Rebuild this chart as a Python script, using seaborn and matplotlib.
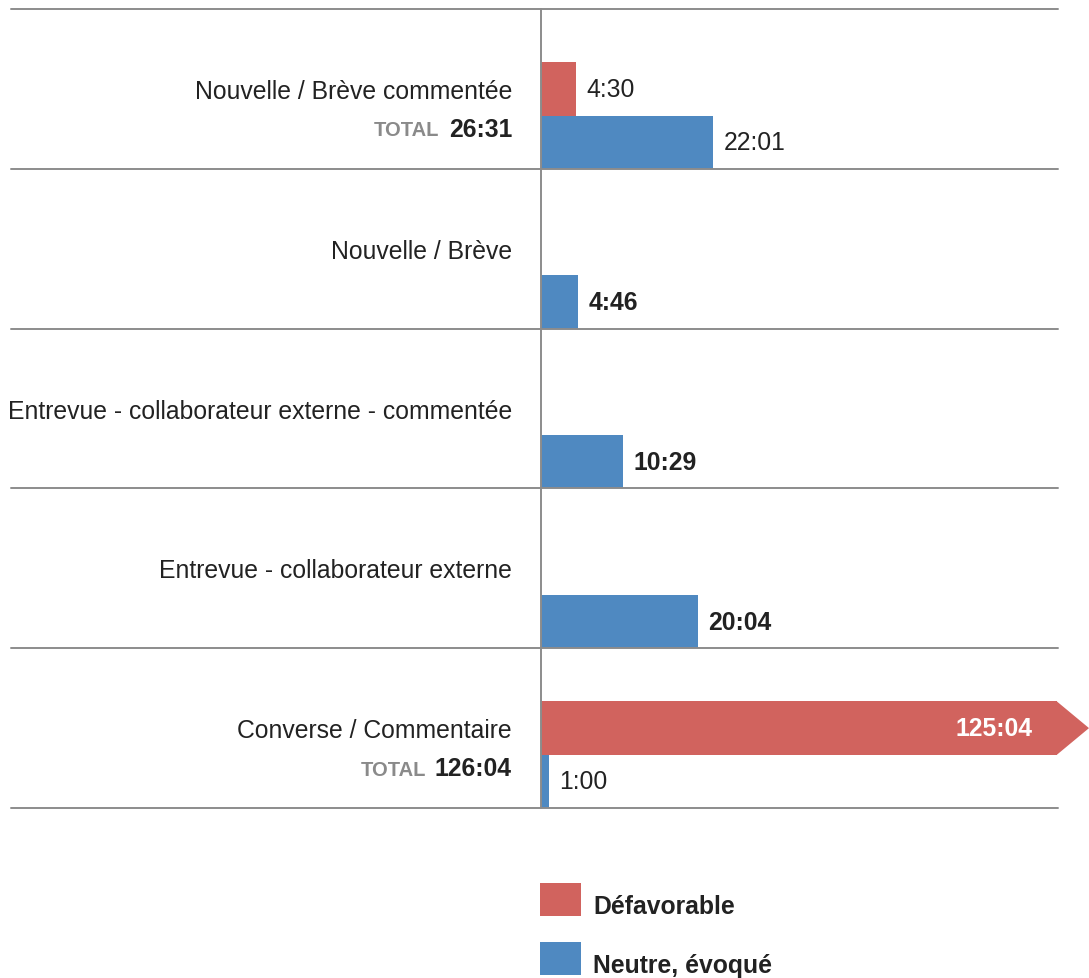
import numpy as np
import pandas as pd
import matplotlib
matplotlib.use("Agg")
import matplotlib.pyplot as plt
import matplotlib.transforms as mtransforms
from matplotlib.patches import Polygon, Rectangle
import seaborn as sns

# ---- data ----
categories = [
    "Nouvelle / Brève commentée",
    "Nouvelle / Brève",
    "Entrevue - collaborateur externe - commentée",
    "Entrevue - collaborateur externe",
    "Converse / Commentaire",
]
series = ["Défavorable", "Neutre, évoqué"]
defavorable = ["4:30", None, None, None, "125:04"]
neutre = ["22:01", "4:46", "10:29", "20:04", "1:00"]
colors = ["#D1635E", "#4F89C1"]

def to_min(s):
    m, sec = s.split(":")
    return int(m) + int(sec) / 60.0

def fmt(v):
    tot = int(round(v * 60))
    return f"{tot // 60}:{tot % 60:02d}"

rows = []
for c, d, n in zip(categories, defavorable, neutre):
    if d is not None:
        rows.append({"cat": c, "serie": series[0], "val": to_min(d)})
    if n is not None:
        rows.append({"cat": c, "serie": series[1], "val": to_min(n)})
df = pd.DataFrame(rows)

# ---- figure ----
W, H = 1089, 979
fig = plt.figure(figsize=(W / 100, H / 100), dpi=100)
sns.set_style("white")
plt.rcParams["font.family"] = ["Liberation Sans", "DejaVu Sans"]

x0_px, top_px, bot_px = 541, 10, 809
ax = fig.add_axes([x0_px / W, (H - bot_px) / H, 1 - x0_px / W, (bot_px - top_px) / H])

XMAX = 70.0
BREAK = 65.9
WIDTH = 2 / 3

sns.barplot(data=df, y="cat", x="val", hue="serie", order=categories,
            hue_order=series, palette=colors, orient="h", width=WIDTH,
            dodge=True, saturation=1, errorbar=None, ax=ax, legend=False,
            linewidth=0)

n = len(categories)
ax.set_xlim(0, XMAX)
ax.set_ylim(n - 1 + WIDTH / 2, -1 + WIDTH / 2)
ax.axis("off")

grey = "#8C8C8C"
txt = "#222222"
FS = 17.8

# separators
bt = mtransforms.blended_transform_factory(ax.transAxes, ax.transData)
xl = (11 - x0_px) / (W - x0_px)
xr = (1058 - x0_px) / (W - x0_px)
for i in range(-1, n):
    ax.plot([xl, xr], [i + WIDTH / 2] * 2, color=grey, lw=1.4, transform=bt,
            clip_on=False, zorder=1)
ax.plot([0, 0], [-1 + WIDTH / 2, n - 1 + WIDTH / 2], color=grey, lw=1.4,
        clip_on=False, zorder=3)

# bar labels
for p in list(ax.patches):
    w = p.get_width()
    if not np.isfinite(w) or w <= 0:
        continue
    yc = p.get_y() + p.get_height() / 2
    ci = int(round(yc))
    cat = categories[ci]
    color = p.get_facecolor()
    single = df[df.cat == cat].shape[0] == 1
    lab = fmt(w)
    if w > BREAK:
        y, h = p.get_y(), p.get_height()
        p.set_width(BREAK)
        ax.add_patch(Polygon([(BREAK, y), (XMAX, y + h / 2), (BREAK, y + h)],
                             closed=True, facecolor=color, edgecolor="none",
                             clip_on=False, zorder=p.get_zorder()))
        ax.annotate(lab, (BREAK, yc), xytext=(-24 * 0.72, 0),
                    textcoords="offset points", ha="right", va="center",
                    fontsize=FS, fontweight="bold", color="white")
    else:
        ax.annotate(lab, (w, yc), xytext=(10 * 0.72, 0),
                    textcoords="offset points", ha="left", va="center",
                    fontsize=FS, fontweight="bold" if single else "normal",
                    color=txt)

# category labels and totals
fig.canvas.draw()
r = fig.canvas.get_renderer()
for i, cat in enumerate(categories):
    ax.annotate(cat, (0, i - 0.153), xytext=(-29 * 0.72, 0),
                textcoords="offset points", ha="right", va="center",
                fontsize=FS, color=txt)
    sub = df[df.cat == cat]
    if len(sub) > 1:
        tot = fmt(sub.val.sum())
        t = ax.annotate(tot, (0, i + 0.085), xytext=(-29 * 0.72, 0),
                        textcoords="offset points", ha="right", va="center",
                        fontsize=FS, fontweight="bold", color=txt)
        wpx = t.get_window_extent(renderer=r).width
        ax.annotate("TOTAL", (0, i + 0.09), xytext=(-(29 + wpx + 9) * 0.72, 0),
                    textcoords="offset points", ha="right", va="center",
                    fontsize=14.5, fontweight="bold", color="#8A8A8A")

# legend
for k, (s, c) in enumerate(zip(series, colors)):
    ytop = 884 + 59 * k
    fig.patches.append(Rectangle((540 / W, (H - ytop - 33) / H), 41 / W, 33 / H,
                                 transform=fig.transFigure, facecolor=c,
                                 edgecolor="none"))
    fig.text(593 / W, (H - (ytop + 23)) / H, s, ha="left", va="center",
             fontsize=FS, fontweight="bold", color=txt)

fig.savefig("out.png", dpi=100)
